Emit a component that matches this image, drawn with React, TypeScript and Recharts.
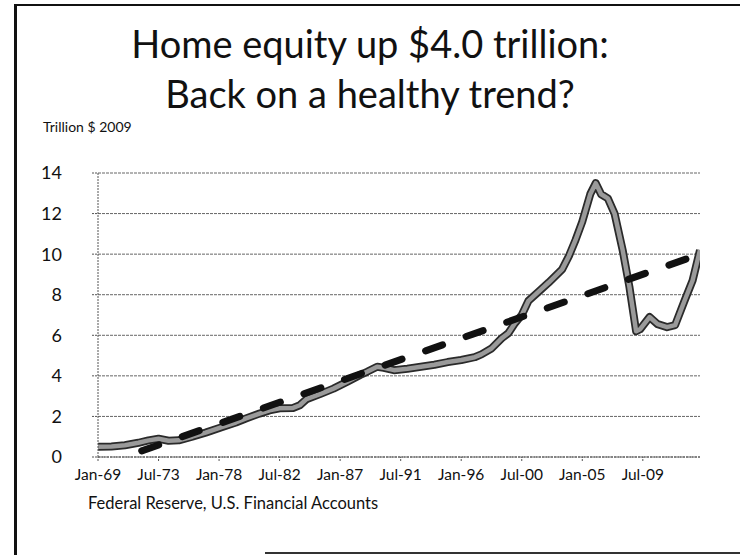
import { LineChart, Line, XAxis, YAxis, CartesianGrid } from "recharts";

const equityYears = [
  1969.0, 1970.0, 1971.0, 1972.0, 1972.75, 1973.5, 1974.25, 1975.0, 1976.0, 1977.0,
  1978.25, 1979.25, 1980.0, 1981.0, 1981.75, 1982.5, 1983.5, 1984.0, 1984.5, 1985.5,
  1986.5, 1987.5, 1988.5, 1989.0, 1989.75, 1990.25, 1991.0, 1992.0, 1993.0, 1994.0,
  1995.0, 1996.0, 1997.0, 1997.5, 1998.25, 1999.0, 1999.5, 2000.0, 2000.5, 2001.0,
  2001.75, 2002.5, 2003.5, 2004.0, 2004.5, 2005.0, 2005.6, 2006.0, 2006.4, 2006.9,
  2007.4, 2008.0, 2008.5, 2009.0, 2009.3, 2010.0, 2010.6, 2011.3, 2011.9, 2012.6,
  2013.2, 2013.75,
];
const equityValues = [
  0.5, 0.52, 0.58, 0.7, 0.82, 0.9, 0.8, 0.82, 1.0, 1.2,
  1.48, 1.7, 1.9, 2.14, 2.3, 2.4, 2.42, 2.55, 2.85, 3.1,
  3.37, 3.7, 4.05, 4.2, 4.45, 4.4, 4.28, 4.35, 4.45, 4.55,
  4.68, 4.78, 4.92, 5.06, 5.35, 5.85, 6.1, 6.6, 7.0, 7.7,
  8.15, 8.6, 9.25, 9.9, 10.7, 11.6, 12.97, 13.5, 12.95, 12.75,
  12.0, 10.2, 8.4, 6.2, 6.3, 6.9, 6.55, 6.4, 6.5, 7.7,
  8.7, 10.2,
];

const trendYears = [1972.25, 2013.75];
const trendValues = [0.3, 10.0];

const tickYears = [1969, 1973.5, 1978, 1982.5, 1987, 1991.5, 1996, 2000.5, 2005, 2009.5];
const tickLabels = [
  "Jan-69", "Jul-73", "Jan-78", "Jul-82", "Jan-87",
  "Jul-91", "Jan-96", "Jul-00", "Jan-05", "Jul-09",
];
const yTicks = [0, 2, 4, 6, 8, 10, 12, 14];

const equityData = equityYears.map((year, i) => ({ year, value: equityValues[i] }));
const trendData = trendYears.map((year, i) => ({ year, value: trendValues[i] }));

const font = "Lato, 'Open Sans', sans-serif";

export default function App() {
  return (
    <div
      style={{
        position: "absolute",
        left: 0,
        top: 0,
        width: 740,
        height: 555,
        background: "#fff",
        fontFamily: font,
        color: "#111",
      }}
    >
      {/* frame: left + top full, bottom partial, no right edge */}
      <div style={{ position: "absolute", left: 14, top: 4, width: 3, height: 551, background: "#111" }} />
      <div style={{ position: "absolute", left: 14, top: 4, width: 726, height: 2, background: "#111" }} />
      <div style={{ position: "absolute", left: 265, top: 552, width: 475, height: 2, background: "#333" }} />

      <div
        style={{
          position: "absolute",
          left: 0,
          width: 740,
          top: 18,
          textAlign: "center",
          fontSize: 38,
          lineHeight: "50px",
        }}
      >
        Home equity up $4.0 trillion:
        <br />
        Back on a healthy trend?
      </div>
      <div style={{ position: "absolute", left: 43, top: 118, fontSize: 14 }}>
        Trillion $ 2009
      </div>
      <div style={{ position: "absolute", left: 88, top: 493, fontSize: 16.5 }}>
        Federal Reserve, U.S. Financial Accounts
      </div>
      <div style={{ position: "absolute", left: 0, top: 0 }}>
        <LineChart
          width={740}
          height={555}
          margin={{ top: 173, right: 40, left: 0, bottom: 0 }}
        >
          <CartesianGrid
            vertical={false}
            stroke="#666"
            strokeDasharray="3 1"
          />
          <XAxis
            type="number"
            dataKey="year"
            domain={[1969, 2013.75]}
            ticks={tickYears}
            tickFormatter={(v: number) => tickLabels[tickYears.indexOf(v)] ?? ""}
            height={98}
            tickSize={4}
            tickMargin={8}
            stroke="#555"
            strokeDasharray="2 1"
            tick={{ fill: "#111", fontSize: 15.5, fontFamily: font }}
            allowDataOverflow
          />
          <YAxis
            type="number"
            domain={[0, 14]}
            ticks={yTicks}
            width={98}
            tickSize={6}
            tickMargin={30}
            stroke="#555"
            strokeDasharray="2 1"
            tick={{ fill: "#111", fontSize: 18, fontFamily: font }}
          />
          <Line
            data={equityData}
            dataKey="value"
            type="linear"
            stroke="#2a2a2a"
            strokeWidth={8}
            dot={false}
            activeDot={false}
            isAnimationActive={false}
            strokeLinejoin="round"
          />
          <Line
            data={equityData}
            dataKey="value"
            type="linear"
            stroke="#9a9a9a"
            strokeWidth={4.5}
            dot={false}
            activeDot={false}
            isAnimationActive={false}
            strokeLinejoin="round"
          />
          <Line
            data={trendData}
            dataKey="value"
            type="linear"
            stroke="#111"
            strokeWidth={7}
            strokeDasharray="18 25"
            strokeLinecap="round"
            dot={false}
            activeDot={false}
            isAnimationActive={false}
          />
        </LineChart>
      </div>
    </div>
  );
}
